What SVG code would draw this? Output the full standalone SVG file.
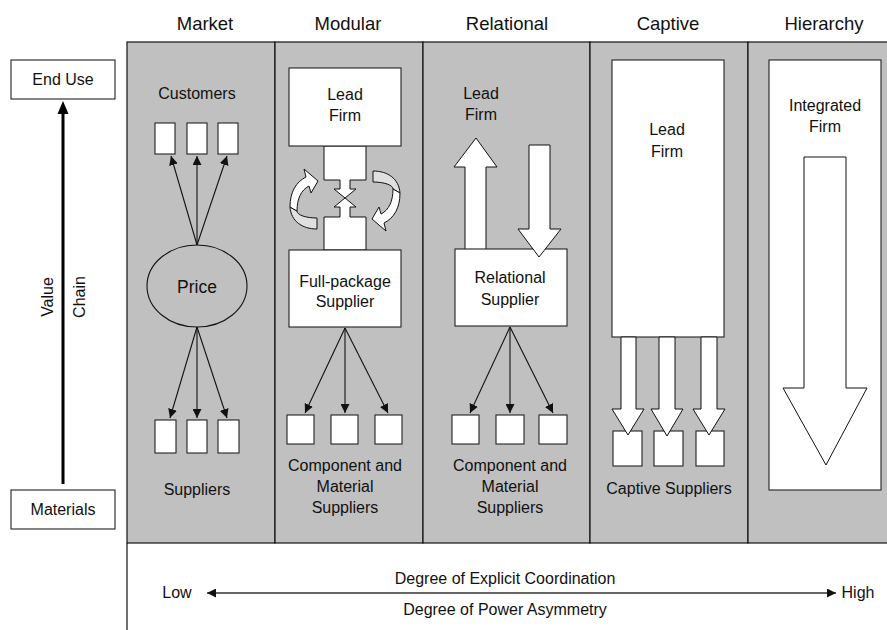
<svg xmlns="http://www.w3.org/2000/svg" width="887" height="630" viewBox="0 0 887 630">
<style>
text{font-family:"Liberation Sans",Arial,sans-serif;fill:#111;}
.h{font-size:18.5px;text-anchor:middle;}
.t{font-size:16px;text-anchor:middle;}
.box{fill:#fff;stroke:#222;stroke-width:1.1;}
.sh{fill:#fff;stroke:#111;stroke-width:1;}
.ar{stroke:#111;stroke-width:1.1;fill:none;marker-end:url(#ah);}
.col{fill:#c0c0c0;stroke:#111;stroke-width:1.2;}
</style>
<defs>
<marker id="ah" viewBox="0 0 10 10" refX="10" refY="5" markerWidth="9" markerHeight="9" markerUnits="userSpaceOnUse" orient="auto-start-reverse">
<path d="M0,0 L10,5 L0,10 z" fill="#111"/>
</marker>
<g id="curl">
<path d="M290,207 C291,221 302,229 317,229 L317,218 C306,218 297,215 297,211 Z" fill="#e0e0e0" stroke="#111" stroke-width="1"/>
<path d="M290,207 C290,192 296,182 306,177 L304,169 L318,181 L311,193 L309,186 C301,190 297,199 297,211 Z" fill="#fff" stroke="#111" stroke-width="1"/>
</g>
</defs>
<rect width="887" height="630" fill="#fff"/>

<g id="headers">
<text class="h" x="205" y="30">Market</text>
<text class="h" x="348" y="30">Modular</text>
<text class="h" x="507" y="30">Relational</text>
<text class="h" x="668" y="30">Captive</text>
<text class="h" x="824" y="30">Hierarchy</text>
</g>

<g id="panel">
<rect class="col" x="127" y="42" width="148" height="501"/>
<rect class="col" x="275" y="42" width="148" height="501"/>
<rect class="col" x="423" y="42" width="167" height="501"/>
<rect class="col" x="590" y="42" width="158" height="501"/>
<rect class="col" x="748" y="42" width="145" height="501"/>
<line x1="127" y1="543" x2="127" y2="630" stroke="#111" stroke-width="1.2"/>
</g>

<g id="value-chain">
<rect class="box" x="11" y="60" width="104" height="39"/>
<text class="t" x="63" y="85">End Use</text>
<rect class="box" x="11" y="490" width="104" height="39"/>
<text class="t" x="63" y="515">Materials</text>
<line x1="63" y1="484" x2="63" y2="110" stroke="#000" stroke-width="3"/>
<polygon points="63,101 57.5,114 68.5,114" fill="#000"/>
<text class="t" transform="translate(53,297) rotate(-90)">Value</text>
<text class="t" transform="translate(85,297) rotate(-90)">Chain</text>
</g>

<g id="market">
<text class="t" x="197" y="99">Customers</text>
<rect class="box" x="155" y="123" width="20" height="31"/>
<rect class="box" x="187" y="123" width="20" height="31"/>
<rect class="box" x="218" y="123" width="20" height="31"/>
<ellipse cx="197" cy="286" rx="50" ry="41" fill="#c0c0c0" stroke="#111" stroke-width="1.1"/>
<text x="197" y="293" style="font-size:17.5px;text-anchor:middle">Price</text>
<rect class="box" x="155" y="420" width="21" height="33"/>
<rect class="box" x="187" y="420" width="20" height="33"/>
<rect class="box" x="218" y="420" width="21" height="33"/>
<text class="t" x="197" y="495">Suppliers</text>
</g>

<g id="modular">
<polygon class="sh" points="324,146 366,146 366,180 350,180 350,189 356,189 345,198 334,189 340,189 340,180 324,180"/>
<polygon class="sh" points="324,250 366,250 366,217 350,217 350,207 356,207 345,198 334,207 340,207 340,217 324,217"/>
<rect class="box" x="289" y="68" width="112" height="78"/>
<text class="t" x="345" y="100">Lead</text>
<text class="t" x="345" y="121">Firm</text>
<use href="#curl"/>
<use href="#curl" transform="rotate(180 345 200)"/>
<rect class="box" x="289" y="250" width="112" height="77"/>
<text class="t" x="345" y="287">Full-package</text>
<text class="t" x="345" y="307">Supplier</text>
<rect class="box" x="287" y="415" width="27" height="29"/>
<rect class="box" x="331" y="415" width="27" height="29"/>
<rect class="box" x="375" y="415" width="27" height="29"/>
<text class="t" x="345" y="471">Component and</text>
<text class="t" x="345" y="492">Material</text>
<text class="t" x="345" y="513">Suppliers</text>
</g>

<g id="relational">
<text class="t" x="481" y="99">Lead</text>
<text class="t" x="481" y="120">Firm</text>
<polygon class="sh" points="465,250 465,167 454,167 476,138 497,167 486,167 486,250"/>
<rect class="box" x="455" y="249" width="112" height="77"/>
<polygon class="sh" points="529,145 550,145 550,229 561,229 539,257 518,229 529,229"/>
<text class="t" x="510" y="283">Relational</text>
<text class="t" x="510" y="305">Supplier</text>
<rect class="box" x="452" y="415" width="27" height="29"/>
<rect class="box" x="496" y="415" width="28" height="29"/>
<rect class="box" x="539" y="415" width="28" height="29"/>
<text class="t" x="510" y="471">Component and</text>
<text class="t" x="510" y="492">Material</text>
<text class="t" x="510" y="513">Suppliers</text>
</g>

<g id="captive">
<rect class="box" x="612" y="60" width="112" height="277"/>
<text class="t" x="667" y="135">Lead</text>
<text class="t" x="667" y="157">Firm</text>
<rect class="box" x="613" y="431" width="29" height="35"/>
<rect class="box" x="654" y="431" width="29" height="35"/>
<rect class="box" x="696" y="431" width="28" height="35"/>
<polygon class="sh" points="621,337 636,337 636,409 644,409 628,435 612,409 621,409"/>
<polygon class="sh" points="659,337 675,337 675,409 683,409 667,436 651,409 659,409"/>
<polygon class="sh" points="701,337 717,337 717,409 725,409 709,435 693,409 701,409"/>
<text class="t" x="669" y="494">Captive Suppliers</text>
</g>

<g id="hierarchy">
<rect class="box" x="769" y="60" width="112" height="430"/>
<text class="t" x="825" y="111">Integrated</text>
<text class="t" x="825" y="132">Firm</text>
<polygon class="sh" points="804,157 846,157 846,388 867,388 826,465 783,388 804,388"/>
</g>

<g id="connectors">
<line class="ar" x1="197" y1="245" x2="171" y2="156"/>
<line class="ar" x1="197" y1="245" x2="197" y2="156"/>
<line class="ar" x1="197" y1="245" x2="227" y2="156"/>
<line class="ar" x1="197" y1="327" x2="170" y2="418"/>
<line class="ar" x1="197" y1="327" x2="197" y2="418"/>
<line class="ar" x1="197" y1="327" x2="227" y2="418"/>
<line class="ar" x1="345" y1="328" x2="305" y2="413"/>
<line class="ar" x1="345" y1="328" x2="345" y2="413"/>
<line class="ar" x1="345" y1="328" x2="388" y2="413"/>
<line class="ar" x1="510" y1="327" x2="470" y2="413"/>
<line class="ar" x1="510" y1="327" x2="510" y2="413"/>
<line class="ar" x1="510" y1="327" x2="553" y2="413"/>
<line x1="207" y1="593" x2="836" y2="593" stroke="#333" stroke-width="1.3" marker-start="url(#ah)" marker-end="url(#ah)"/>
</g>

<g id="axis">
<text class="t" x="505" y="584">Degree of Explicit Coordination</text>
<text class="t" x="177" y="598">Low</text>
<text class="t" x="858" y="598">High</text>
<text class="t" x="505" y="615">Degree of Power Asymmetry</text>
</g>
</svg>
